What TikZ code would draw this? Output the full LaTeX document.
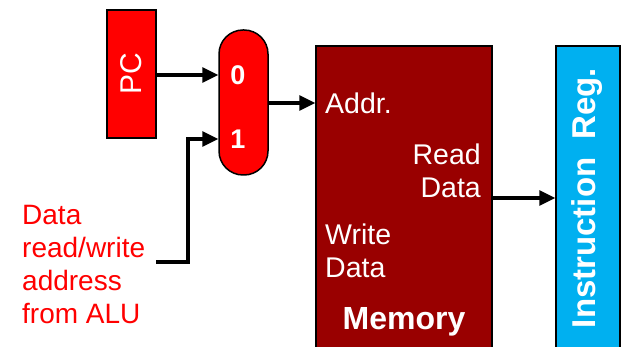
\documentclass[tikz,border=0pt]{standalone}
\usepackage{fontspec}
\setmainfont{Liberation Sans}
\usetikzlibrary{arrows.meta}
\definecolor{pcred}{HTML}{FF0000}
\definecolor{memred}{HTML}{990000}
\definecolor{irblue}{HTML}{00B0F0}
\tikzset{
  blk/.style={draw=black, line width=1.5pt, inner sep=0pt},
  arr/.style={line width=3.2pt, -{Triangle[length=16pt,width=15pt]}},
  lbl/.style={text=white, inner sep=0pt, font=\fontsize{28.5}{33}\selectfont},
  blbl/.style={text=white, inner sep=0pt, font=\fontsize{27}{30}\selectfont\bfseries},
}
\begin{document}
\begin{tikzpicture}[x=1pt,y=-1pt]
\useasboundingbox (0,0) rectangle (621,347);
\clip (0,0) rectangle (621,347);
% blocks
\node[blk, fill=pcred, minimum width=49pt, minimum height=128pt] (pc) at (131.5,74) {};
\node[text=white, rotate=90, inner sep=0pt, font=\fontsize{30}{30}\selectfont] (pct) at (pc.center) {PC};
\node[blk, fill=pcred, minimum width=49pt, minimum height=145pt, rounded corners=24pt] (mux) at (243.5,102.5) {};
\node[blbl] (m0) at (238,75) {0};
\node[blbl] (m1) at (238,139) {1};
\node[blk, fill=memred, minimum width=176pt, minimum height=304pt] (mem) at (404,198) {};
\node[blk, fill=irblue, minimum width=64pt, minimum height=304pt] (ir) at (588,198) {};
\node[text=white, rotate=90, inner sep=0pt, font=\fontsize{33}{33}\selectfont\bfseries] (irt) at (587,198) {Instruction\ \ Reg.};
% memory labels
\node[lbl, anchor=west] (addr) at (325,103) {Addr.};
\node[lbl, anchor=east, align=right] (rd) at (481,171) {Read\\Data};
\node[lbl, anchor=west, align=left] (wd) at (325,251) {Write\\Data};
\node[blbl, font=\fontsize{32}{32}\selectfont\bfseries] (memt) at (404,322) {Memory};
% left label
\node[text=pcred, inner sep=0pt, anchor=west, align=left, font=\fontsize{28}{33}\selectfont] (alu) at (22,265) {Data\\read/write\\address\\from ALU};
% connectors
\draw[arr] (pc.east |- m0) coordinate (a0) -- (mux.west |- a0);
\draw[arr] (156,262) -- (188,262) |- (mux.west |- m1);
\draw[arr] (mux.east |- 0,103) -- (mem.west |- addr);
\draw[arr] (mem.east |- 0,198) -- (ir.west |- 0,198);
\end{tikzpicture}
\end{document}
